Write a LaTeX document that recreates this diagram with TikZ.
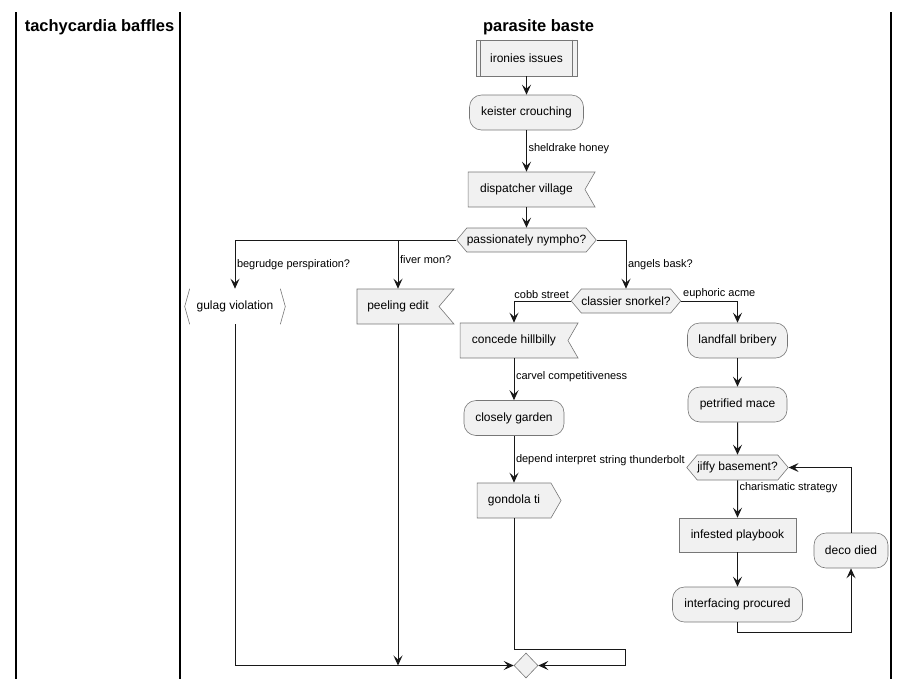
\documentclass[tikz,border=0pt]{standalone}
\usepackage{fontspec}
\setmainfont{Liberation Sans}
\usepackage{xcolor}
\usepackage{tikz}
\usetikzlibrary{arrows.meta,shapes.symbols,shapes.geometric}

\definecolor{boxfill}{HTML}{F1F1F1}
\definecolor{boxline}{HTML}{777777}
\definecolor{flowline}{HTML}{181818}

\begin{document}
\begin{tikzpicture}[x=1pt, y=-1pt,
  act/.style={draw=boxline, fill=boxfill, line width=0.6pt, inner sep=0pt,
    minimum height=35pt, font=\fontsize{12}{14}\selectfont},
  rnd/.style={act, rounded corners=12pt},
  plain/.style={act, rectangle},
  recv/.style={act, signal, signal to=nowhere, signal from=east, signal pointer angle=#1},
  send/.style={act, signal, signal to=east, signal pointer angle=120},
  choice/.style={act, signal, signal to=east and west, signal pointer angle=100, minimum height=24pt},
  lbl/.style={font=\fontsize{11}{13}\selectfont, inner sep=1.5pt},
  flow/.style={draw=flowline, line width=1pt, -{Stealth[length=10pt, width=9pt, inset=4pt]}},
  lane/.style={line width=1.5pt},
  title/.style={font=\bfseries\fontsize{16.5}{20}\selectfont, anchor=base}]
\useasboundingbox (0,0) rectangle (910,689);

% swimlanes
\draw[lane] (16,12) -- (16,679);
\draw[lane] (180,12) -- (180,679);
\draw[lane] (891,12) -- (891,679);
\node[title] (lane1) at (99.5,31) {tachycardia baffles};
\node[title] (lane2) at (538.5,31) {parasite baste};

% main column
\node[plain, minimum width=101pt, minimum height=36pt] (ii) at (526.5,58) {ironies issues};
\draw[boxline, line width=0.6pt] ([xshift=5pt]ii.north west) -- ([xshift=5pt]ii.south west)
  ([xshift=-5pt]ii.north east) -- ([xshift=-5pt]ii.south east);
\node[rnd, minimum width=114pt] (kc) at (526.5,112.5) {keister crouching};
\node[recv=120, minimum width=127pt] (dv) at (526.5,189.5) {dispatcher village};
\node[choice, minimum width=133pt] (pn) at (526.5,240) {passionately nympho?};

% left branches
\node[act, draw=none, fill=none, minimum width=100pt] (gv) at (235,306.5) {gulag violation};
\draw[boxline, line width=0.6pt] ([xshift=5pt]gv.north west) -- (gv.west) -- ([xshift=5pt]gv.south west)
  ([xshift=-5pt]gv.north east) -- (gv.east) -- ([xshift=-5pt]gv.south east);
\node[recv=99, minimum width=97pt] (pe) at (398,306.5) {peeling edit};

% right branches
\node[choice, minimum width=106pt] (cs) at (626,301) {classier snorkel?};
\node[recv=120, minimum width=118pt] (ch) at (514,340.5) {concede hillbilly};
\node[rnd, minimum width=100pt] (cg) at (514,418) {closely garden};
\node[send, minimum width=84pt] (gt) at (514,500.5) {gondola ti};
\node[rnd, minimum width=100pt] (lb) at (737.5,340.5) {landfall bribery};
\node[rnd, minimum width=99pt] (pm) at (737.5,404.5) {petrified mace};
\node[choice, minimum width=99pt, minimum height=25pt] (jb) at (737.5,467.5) {jiffy basement?};
\node[lbl, anchor=south east] (st) at (jb.west) {string thunderbolt};
\node[plain, minimum width=117pt, minimum height=34pt] (ip) at (737.5,535) {infested playbook};
\node[rnd, minimum width=130pt] (ifp) at (737.5,604.5) {interfacing procured};
\node[rnd, minimum width=74pt] (dd) at (851,550.5) {deco died};
\node[draw=boxline, fill=boxfill, line width=0.6pt, diamond, inner sep=0pt,
  minimum width=24pt, minimum height=25pt] (mg) at (526,665.5) {};
\coordinate (gtbend) at (625.5,649);

% connectors
\draw[flow] (ii.south) -- (kc.north);
\draw[flow] (kc.south) -- node[lbl, right, pos=0.45] {sheldrake honey} (dv.north);
\draw[flow] (dv.south) -- (pn.north);
\draw[flow] (pn.west) -| node[lbl, anchor=west, pos=0.75] {begrudge perspiration?} (gv.north);
\draw[flow] (pn.west) -| node[lbl, anchor=west, pos=0.7] {fiver mon?} (pe.north);
\draw[flow] (pn.east) -| node[lbl, anchor=west, pos=0.75] {angels bask?} (cs.north);
\draw[flow] (cs.west) -| node[lbl, above left, pos=0] {cobb street} (ch.north);
\draw[flow] (cs.east) -| node[lbl, above right, pos=0] {euphoric acme} (lb.north);
\draw[flow] (ch.south) -- node[lbl, right, pos=0.44] {carvel competitiveness} (cg.north);
\draw[flow] (cg.south) -- node[lbl, right, pos=0.5] {depend interpret} (gt.north);
\draw[flow] (lb) -- (pm);
\draw[flow] (pm) -- (jb);
\draw[flow] (jb) -- node[lbl, right, pos=0.2] {charismatic strategy} (ip);
\draw[flow] (ip) -- (ifp);
\draw[flow] (ifp.south) -- ++(0,10) -| (dd.south);
\draw[flow] (dd.north) |- (jb.east);
\draw[flow] (gv.south) |- (mg.west);
\draw[flow] (pe.south) -- (pe.south |- mg.west);
\draw[flow] (gt.south) |- (gtbend) |- (mg.east);
\end{tikzpicture}
\end{document}
